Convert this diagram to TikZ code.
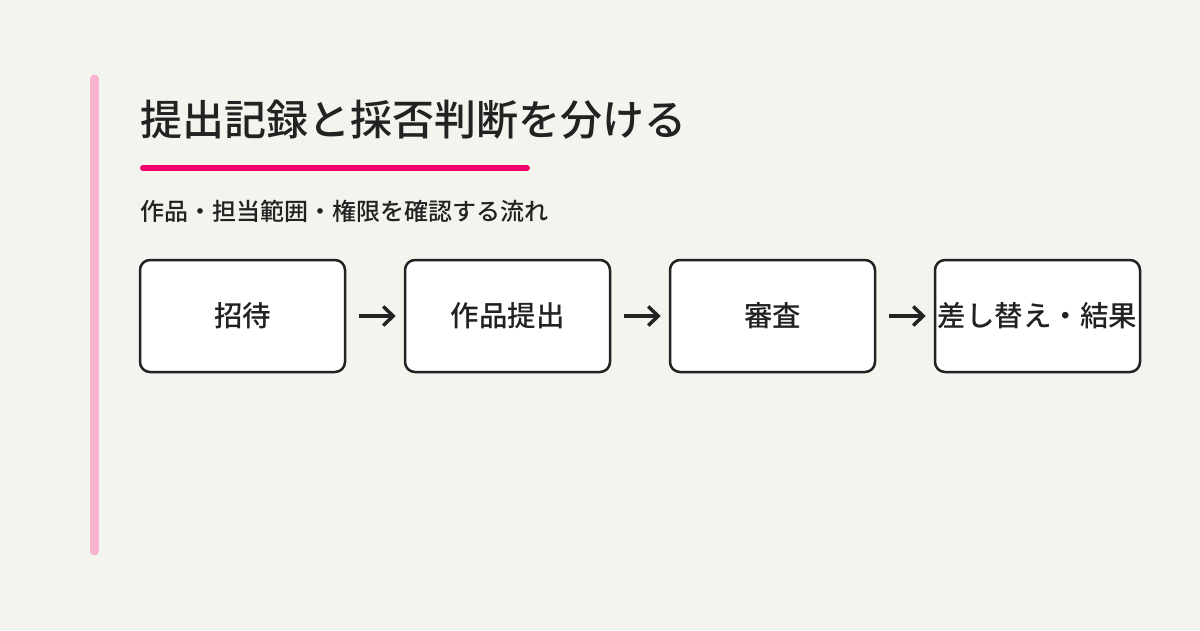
\documentclass[tikz,border=0pt]{standalone}
\usepackage{fontspec}
\setmainfont{Noto Sans CJK JP}[UprightFont=* Medium, BoldFont=* Bold]
\usetikzlibrary{arrows.meta}
\definecolor{bg}{HTML}{F4F4EF}
\definecolor{ink}{HTML}{222222}
\definecolor{accent}{HTML}{F0006A}
\definecolor{sidebar}{HTML}{F9B3CE}
\tikzset{
  stepbox/.style={draw=ink, line width=2.5pt, fill=white, rounded corners=10pt,
    minimum width=205pt, minimum height=112pt, inner sep=0pt, text=ink,
    font=\fontsize{28.5}{34}\selectfont},
  flowarrow/.style={draw=ink, line width=3.5pt, -{Straight Barb[length=10pt,width=19pt]},
    shorten <=13pt, shorten >=8pt},
  titletext/.style={anchor=west, inner sep=0pt, text=ink, font=\fontsize{42}{50}\selectfont},
  subtext/.style={anchor=west, inner sep=0pt, text=ink, font=\fontsize{24}{30}\selectfont}
}
\begin{document}
\begin{tikzpicture}[x=1pt,y=-1pt]
\useasboundingbox (0,0) rectangle (1200,630);
\fill[bg] (0,0) rectangle (1200,630);
\draw[sidebar, line width=9pt, line cap=round] (94.5,79) -- (94.5,551);
\node[titletext] (title) at (140,120) {提出記録と採否判断を分ける};
\draw[accent, line width=6pt, line cap=round] (143,168) -- (527,168);
\node[subtext] (sub) at (140,211) {作品・担当範囲・権限を確認する流れ};
\node[stepbox] (s1) at (242.5,316) {招待};
\node[stepbox] (s2) at (507.5,316) {作品提出};
\node[stepbox] (s3) at (772.5,316) {審査};
\node[stepbox] (s4) at (1037.5,316) {差し替え・結果};
\draw[flowarrow] (s1) -- (s2);
\draw[flowarrow] (s2) -- (s3);
\draw[flowarrow] (s3) -- (s4);
\end{tikzpicture}
\end{document}
